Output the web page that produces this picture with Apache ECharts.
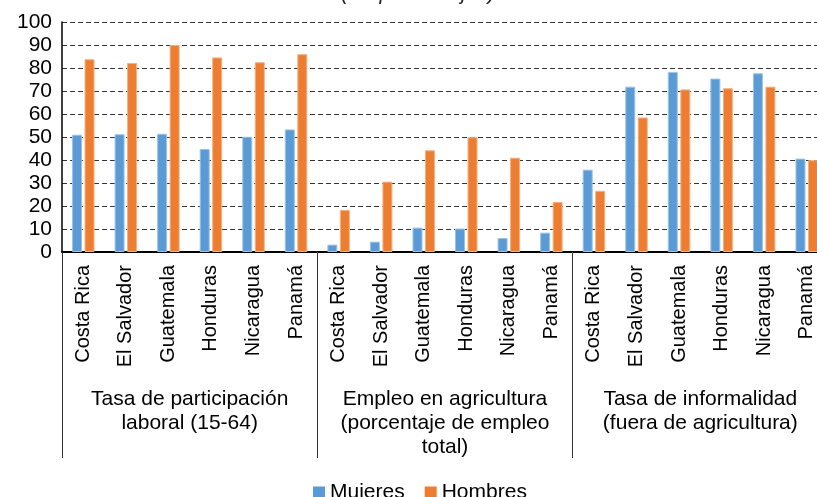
<!DOCTYPE html>
<html>
<head>
<meta charset="utf-8">
<script src="https://cdn.jsdelivr.net/npm/echarts@6/dist/echarts.min.js"></script>
<style>
  html, body { margin: 0; padding: 0; background: #fff; overflow: hidden; }
  #chart { width: 828px; height: 497px; }
</style>
</head>
<body>
<div id="chart"></div>
<script>
const countries = ["Costa Rica", "El Salvador", "Guatemala", "Honduras", "Nicaragua", "Panamá"];
const groups = [
  "Tasa de participación\nlaboral (15-64)",
  "Empleo en agricultura\n(porcentaje de empleo\ntotal)",
  "Tasa de informalidad\n(fuera de agricultura)"
];
const categories = [].concat(countries, countries, countries);

// participación, agricultura, informalidad
const mujeres = [
  51.0, 51.2, 51.4, 44.8, 50.1, 53.3,
  3.2, 4.5, 10.6, 10.2, 6.1, 8.4,
  35.8, 71.9, 78.3, 75.4, 77.7, 40.6
];
const hombres = [
  83.8, 82.2, 90.0, 84.6, 82.5, 86.0,
  18.3, 30.6, 44.2, 49.9, 41.0, 21.8,
  26.6, 58.5, 70.7, 71.2, 71.9, 39.9
];

const font = "'Liberation Sans', Arial, sans-serif";
// el área del gráfico sigue un poco más allá del borde derecho (recortado como en el original)
const chart = echarts.init(document.getElementById("chart"));

chart.setOption({
  animation: false,
  textStyle: { fontFamily: font },
  title: {
    text: "(En porcentajes)",
    left: 336,
    top: -21,
    textStyle: { fontSize: 21, fontStyle: "italic", fontWeight: "normal", color: "#222", fontFamily: font }
  },
  legend: {
    data: ["Mujeres", "Hombres"],
    left: 308,
    top: 477,
    icon: "rect",
    itemWidth: 12,
    itemHeight: 12,
    itemGap: 20,
    itemStyle: { borderWidth: 0 },
    textStyle: { fontSize: 21, color: "#000", fontFamily: font }
  },
  grid: { left: 62, right: 0, top: 22, bottom: 245, containLabel: false },
  xAxis: [
    {
      type: "category",
      data: categories,
      axisLine: { lineStyle: { color: "#000", width: 2 } },
      axisTick: {
        show: true,
        interval: function (i) { return i % 6 === 0; },
        length: 206,
        lineStyle: { color: "#333", width: 1 }
      },
      axisLabel: { interval: 0, rotate: 90, margin: 13, fontSize: 20, color: "#000", fontFamily: font }
    },
    {
      type: "category",
      data: groups,
      position: "bottom",
      axisLine: { show: false },
      axisTick: { show: false },
      axisLabel: { interval: 0, margin: 135, fontSize: 21, lineHeight: 24, color: "#000", fontFamily: font }
    }
  ],
  yAxis: {
    type: "value",
    min: 0,
    max: 100,
    interval: 10,
    axisLine: { show: true, lineStyle: { color: "#000", width: 1.5 } },
    axisTick: { show: false },
    axisLabel: { fontSize: 21, color: "#000", margin: 10, fontFamily: font },
    splitLine: { show: true, lineStyle: { color: "#333", type: [5, 3], width: 1.2 } }
  },
  series: [
    {
      name: "Mujeres",
      type: "bar",
      data: mujeres,
      barWidth: 10,
      barGap: "25%",
      itemStyle: { color: "#5B9BD5", borderColor: "#9DC3E6", borderWidth: 1 }
    },
    {
      name: "Hombres",
      type: "bar",
      data: hombres,
      barWidth: 10,
      barGap: "25%",
      itemStyle: { color: "#ED7D31", borderColor: "#F4B183", borderWidth: 1 }
    }
  ]
});
</script>
</body>
</html>
